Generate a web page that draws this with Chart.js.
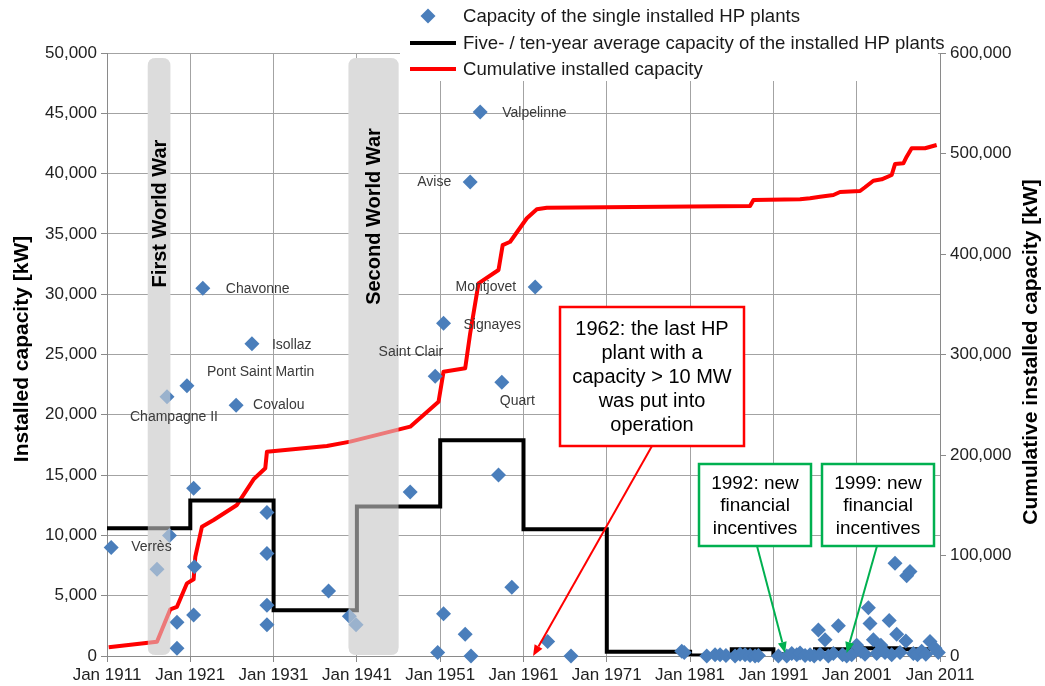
<!DOCTYPE html>
<html><head><meta charset="utf-8">
<script src="https://cdn.jsdelivr.net/npm/chart.js@4.4.0/dist/chart.umd.min.js"></script>
<style>html,body{margin:0;padding:0;background:#fff;}#wrap{width:1045px;height:686px;position:relative;}</style>
</head><body><div id="wrap"><canvas id="c" width="1045" height="686"></canvas></div>
<script>
// ---------- DATA ----------
const xTickYears = [1911,1921,1931,1941,1951,1961,1971,1981,1991,2001,2011];

// single installed HP plants: year, capacity [kW], name
const plantYears = [1911.5,1917.0,1918.2,1918.5,1919.4,1919.4,1920.6,1921.4,1921.5,1921.4,1922.5,1926.5,1928.4,
  1930.2,1930.2,1930.2,1930.2,1937.6,1940.1,1940.9,1947.4,1950.4,1951.4,1951.4,1950.7,1954.0,1954.7,1954.6,1955.8,
  1958.4,1958.0,1959.6,1962.4,1963.9,1966.7,
  1980.0,1980.3,1983.0,1984.0,1984.6,1985.3,1986.4,1987.0,1987.6,1988.2,1988.8,1989.2,
  1991.6,1992.6,1993.2,1993.8,1994.2,1994.8,1995.4,1995.9,1996.4,1996.6,1997.2,1997.6,1998.2,1998.8,1999.3,1999.8,
  2000.4,2001.0,2001.5,2002.0,2002.4,2002.6,2003.0,2003.4,2003.9,2004.4,2004.9,2005.2,2005.6,2005.8,2006.2,2006.9,
  2007.0,2007.4,2007.8,2008.3,2008.8,2009.3,2009.8,2010.4,2010.8];
const plantKW = [9000,7200,21500,10000,2800,650,22400,13900,7400,3400,30500,20800,25900,
  11900,8500,4200,2600,5400,3300,2600,13600,23200,27600,3500,300,1800,0,39300,45100,
  22700,15000,5700,30600,1200,0,
  400,300,0,100,100,50,0,150,100,50,0,50,
  0,0,200,100,250,50,100,0,2150,150,1350,0,200,2500,100,0,
  100,900,400,150,4000,2700,1350,200,900,300,2950,100,7700,1800,300,1250,
  6650,7000,200,100,400,150,1200,650,300];
const plantNames = ['Verrès','','Champagne II','','','','Pont Saint Martin','','','','Chavonne','Covalou','Isollaz',
  '','','','','','','','','Saint Clair','Signayes','','','','','Avise','Valpelinne',
  'Quart','','','Montjovet'];

// five- / ten-year average capacity (value holds from this year to the next)
const avgYears = [1911,1921,1931,1941,1946,1951,1961,1971,1981,1986,1991,1996,2001,2006,2011];
const avgKW    = [10600,12900,3800,12400,12400,17900,10500,360,40,560,150,550,650,550,550];

// cumulative installed capacity [kW]
const cumYears = [1911.2,1917.0,1918.6,1919.4,1920.6,1921.4,1921.6,1922.4,1923.8,1926.6,1928.6,1930.0,1930.2,
  1937.4,1940.2,1947.4,1950.8,1951.4,1954.0,1954.6,1955.6,1958.0,1958.5,1959.4,1961.4,1962.6,1963.8,
  1988.2,1988.6,1994.2,1995.4,1996.6,1998.2,1999.0,2001.4,2002.0,2003.0,2004.0,2005.2,2005.6,2006.6,
  2007.0,2007.6,2009.2,2010.6];
const cumKW = [8700,14200,46500,49000,72300,76300,98800,128700,135300,150300,175800,186800,203300,
  209000,213300,228200,253000,282900,286300,321100,370800,384100,408900,412200,435600,444500,446000,
  447800,453700,454400,455400,457000,458700,461700,462700,466400,472900,474300,478600,489500,490200,
  496800,505200,505200,508500];

const warNames = ['First World War','Second World War'];
const warFrom  = [1915.9, 1940.0];
const warTo    = [1918.6, 1946.0];

const legendLabels = ['Capacity of the single installed HP plants',
  'Five- / ten-year average capacity of the installed HP plants',
  'Cumulative installed capacity'];

const noteTexts = [
  ['1962: the last HP','plant with a','capacity > 10 MW','was put into','operation'],
  ['1992: new','financial','incentives'],
  ['1999: new','financial','incentives']];
const noteTargetYears = [1962.15, 1992.4, 1999.8];
const noteTargetKW = [0, 250, 250];

// ---------- STYLE ----------
const FONT = '"Liberation Sans", Arial, sans-serif';
const BLUE = '#4a7ebb', RED = '#ff0000', BLACK = '#000000', GREEN = '#00b050';
const labelOffsets = {
  'Verrès':[20,0,'left'], 'Champagne II':[7,20,'center'], 'Pont Saint Martin':[20,-14,'left'],
  'Chavonne':[23,1,'left'], 'Covalou':[17,0,'left'], 'Isollaz':[20,1,'left'],
  'Saint Clair':[8,-24,'right'], 'Signayes':[20,2,'left'], 'Avise':[-19,0,'right'],
  'Valpelinne':[22,1,'left'], 'Quart':[-2,19,'left'], 'Montjovet':[-19,0,'right']
};
const noteBoxes = [ // pixel boxes: x, y, w, h, color, fontSize, lineHeight, arrow start
  {x:560,y:307,w:184,h:139,color:RED,fs:20,lh:24,ax:652,ay:446},
  {x:699,y:464,w:112,h:82,color:GREEN,fs:19,lh:22.5,ax:757,ay:546},
  {x:822,y:464,w:112,h:82,color:GREEN,fs:19,lh:22.5,ax:877,ay:546}];

function rrect(ctx,x,y,w,h,r){
  ctx.beginPath();
  ctx.moveTo(x+r,y); ctx.lineTo(x+w-r,y); ctx.quadraticCurveTo(x+w,y,x+w,y+r);
  ctx.lineTo(x+w,y+h-r); ctx.quadraticCurveTo(x+w,y+h,x+w-r,y+h);
  ctx.lineTo(x+r,y+h); ctx.quadraticCurveTo(x,y+h,x,y+h-r);
  ctx.lineTo(x,y+r); ctx.quadraticCurveTo(x,y,x+r,y); ctx.closePath();
}
function warRects(chart){
  const xs = chart.scales.x, a = chart.chartArea;
  return warNames.map((n,i)=>{
    const x1 = xs.getPixelForValue(warFrom[i]), x2 = xs.getPixelForValue(warTo[i]);
    return {x:x1, y:a.top+5, w:x2-x1, h:a.bottom-a.top-6};
  });
}
function arrow(ctx,x1,y1,x2,y2,color){
  ctx.save(); ctx.strokeStyle=color; ctx.fillStyle=color; ctx.lineWidth=2;
  const ang = Math.atan2(y2-y1,x2-x1), L=11, W=4.5;
  const bx = x2 - L*Math.cos(ang), by = y2 - L*Math.sin(ang);
  ctx.beginPath(); ctx.moveTo(x1,y1); ctx.lineTo(bx,by); ctx.stroke();
  ctx.beginPath(); ctx.moveTo(x2,y2);
  ctx.lineTo(bx + W*Math.sin(ang), by - W*Math.cos(ang));
  ctx.lineTo(bx - W*Math.sin(ang), by + W*Math.cos(ang));
  ctx.closePath(); ctx.fill(); ctx.restore();
}

const decor = {
  id:'decor',
  beforeDatasetsDraw(chart){
    const ctx = chart.ctx; ctx.save();
    ctx.fillStyle = '#dcdcdc';
    warRects(chart).forEach(r=>{ rrect(ctx,r.x,r.y,r.w,r.h,8); ctx.fill(); });
    ctx.restore();
  },
  afterDatasetsDraw(chart){
    const ctx = chart.ctx, xs = chart.scales.x, ys = chart.scales.y;
    ctx.save();
    // translucent war bands over the data
    ctx.fillStyle = 'rgba(220,220,220,0.55)';
    const rects = warRects(chart);
    rects.forEach(r=>{ rrect(ctx,r.x,r.y,r.w,r.h,8); ctx.fill(); });
    // war labels
    ctx.fillStyle = '#000'; ctx.font = 'bold 20px '+FONT; ctx.textAlign='center'; ctx.textBaseline='middle';
    const warLabelY = [213.5, 216.5];
    rects.forEach((r,i)=>{
      ctx.save(); ctx.translate(r.x + r.w/2 + 1, warLabelY[i]); ctx.rotate(-Math.PI/2);
      ctx.fillText(warNames[i],0,0); ctx.restore();
    });
    // plant labels
    ctx.font = '14px '+FONT; ctx.fillStyle = '#3a3a3a'; ctx.textBaseline='middle';
    plantNames.forEach((n,i)=>{
      if(!n) return;
      const o = labelOffsets[n];
      const px = xs.getPixelForValue(plantYears[i]), py = ys.getPixelForValue(plantKW[i]);
      ctx.textAlign = o[2]; ctx.fillText(n, px+o[0], py+o[1]);
    });
    // note boxes and arrows
    noteBoxes.forEach((b,i)=>{
      const tx = xs.getPixelForValue(noteTargetYears[i]), ty = ys.getPixelForValue(noteTargetKW[i]);
      arrow(ctx,b.ax,b.ay,tx,ty,b.color);
      ctx.fillStyle='#fff'; ctx.fillRect(b.x,b.y,b.w,b.h);
      ctx.strokeStyle=b.color; ctx.lineWidth=2.5; ctx.strokeRect(b.x,b.y,b.w,b.h);
      ctx.fillStyle='#000'; ctx.font = b.fs+'px '+FONT; ctx.textAlign='center'; ctx.textBaseline='middle';
      const lines = noteTexts[i], cx = b.x+b.w/2, cy = b.y+b.h/2;
      lines.forEach((t,k)=> ctx.fillText(t, cx, cy + (k-(lines.length-1)/2)*b.lh + 1));
    });
    ctx.restore();
  },
  afterDraw(chart){
    const ctx = chart.ctx; ctx.save();
    // legend
    ctx.fillStyle='#fff'; ctx.fillRect(400,0,538,81);
    ctx.font='18.6px '+FONT; ctx.textAlign='left'; ctx.textBaseline='middle';
    const ly = [16,43,69];
    ctx.fillStyle=BLUE; ctx.beginPath();
    ctx.moveTo(428,ly[0]-7.5); ctx.lineTo(435.5,ly[0]); ctx.lineTo(428,ly[0]+7.5); ctx.lineTo(420.5,ly[0]); ctx.closePath(); ctx.fill();
    ctx.lineWidth=4; ctx.strokeStyle=BLACK; ctx.beginPath(); ctx.moveTo(410,ly[1]); ctx.lineTo(456,ly[1]); ctx.stroke();
    ctx.strokeStyle=RED; ctx.beginPath(); ctx.moveTo(410,ly[2]); ctx.lineTo(456,ly[2]); ctx.stroke();
    ctx.fillStyle='#1a1a1a';
    legendLabels.forEach((t,i)=>ctx.fillText(t,463,ly[i]+1));
    // axis titles
    ctx.font='bold 21px '+FONT; ctx.fillStyle='#000'; ctx.textAlign='center';
    ctx.save(); ctx.translate(22,349); ctx.rotate(-Math.PI/2); ctx.fillText('Installed capacity [kW]',0,0); ctx.restore();
    ctx.save(); ctx.translate(1031,352); ctx.rotate(-Math.PI/2); ctx.fillText('Cumulative installed capacity [kW]',0,0); ctx.restore();
    ctx.restore();
  }
};

const tickFont = {size:17, family:FONT};
const chart = new Chart(document.getElementById('c'), {
  type:'scatter',
  data:{ datasets:[
    { label:legendLabels[0], type:'scatter', order:0, yAxisID:'y', clip:10,
      data: plantYears.map((x,i)=>({x, y:plantKW[i]})),
      pointStyle:'rectRot', pointRadius:7.5, pointHoverRadius:7.5,
      backgroundColor:BLUE, borderColor:BLUE, borderWidth:0 },
    { label:legendLabels[1], type:'line', order:1, yAxisID:'y',
      data: avgYears.map((x,i)=>({x, y:avgKW[i]})), stepped:'before',
      borderColor:BLACK, borderWidth:4, pointRadius:0, fill:false, tension:0 },
    { label:legendLabels[2], type:'line', order:2, yAxisID:'y2',
      data: cumYears.map((x,i)=>({x, y:cumKW[i]})),
      borderColor:RED, borderWidth:4, pointRadius:0, fill:false, tension:0, borderJoinStyle:'round' }
  ]},
  options:{
    responsive:false, animation:false, devicePixelRatio:1,
    layout:{ padding:{top:53,left:0,right:0,bottom:0} },
    plugins:{ legend:{display:false}, tooltip:{enabled:false} },
    scales:{
      x:{ type:'linear', min:1911, max:2011,
        afterBuildTicks: s => { s.ticks = xTickYears.map(v=>({value:v})); },
        afterFit: s => { s.height = 30; },
        ticks:{ callback: v => 'Jan ' + v, maxRotation:0, autoSkip:false, font:tickFont, color:'#222', padding:3 },
        grid:{ color:'#a3a3a3', lineWidth:1, tickLength:6, tickColor:'#8a8a8a' },
        border:{ color:'#8a8a8a', width:1 } },
      y:{ position:'left', min:0, max:50000,
        afterFit: s => { s.width = 107; },
        ticks:{ stepSize:5000, callback: v => v.toLocaleString('en-US'), font:tickFont, color:'#222', padding:4 },
        grid:{ color:'#a3a3a3', lineWidth:1, tickLength:6, tickColor:'#8a8a8a' },
        border:{ color:'#8a8a8a', width:1 } },
      y2:{ position:'right', min:0, max:600000,
        afterFit: s => { s.width = 105; },
        ticks:{ stepSize:100000, callback: v => v.toLocaleString('en-US'), font:tickFont, color:'#222', padding:4 },
        grid:{ drawOnChartArea:false, tickLength:6, tickColor:'#8a8a8a' },
        border:{ color:'#8a8a8a', width:1 } }
    }
  },
  plugins:[decor]
});
</script></body></html>
